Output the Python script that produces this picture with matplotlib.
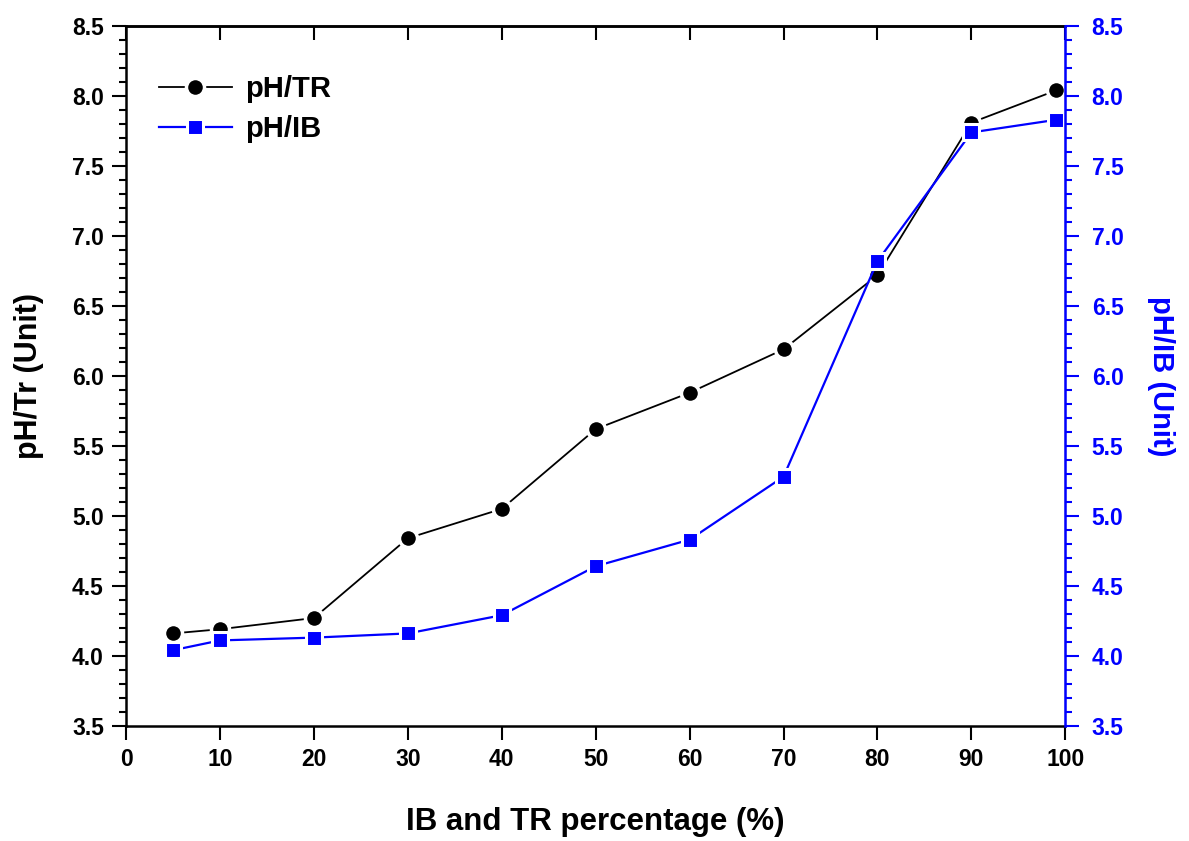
import matplotlib.pyplot as plt
from matplotlib.ticker import MultipleLocator

plt.rc('font', family='Liberation Sans', weight='bold')

# data
pct = [5, 10, 20, 30, 40, 50, 60, 70, 80, 90, 99]
ph_tr = [4.16, 4.19, 4.27, 4.84, 5.05, 5.62, 5.88, 6.19, 6.72, 7.81, 8.04]
ph_ib = [4.04, 4.11, 4.13, 4.16, 4.29, 4.64, 4.83, 5.28, 6.82, 7.74, 7.83]

FS = 16.5
BLUE = '#0000ff'

fig = plt.figure(figsize=(11.89, 8.41), dpi=100)
ax = fig.add_axes([0.106, 0.137, 0.790, 0.832])
ax2 = ax.twinx()

l1, = ax.plot(pct, ph_tr, '-', color='black', lw=1.3, marker='o', ms=13,
              mfc='black', mec='white', mew=2.5, label='pH/TR')
l2, = ax2.plot(pct, ph_ib, '-', color=BLUE, lw=1.6, marker='s', ms=11,
               mfc=BLUE, mec='white', mew=2.2, label='pH/IB')

ax.set_xlim(0, 100)
ax.set_ylim(3.5, 8.5)
ax2.set_ylim(3.5, 8.5)

ax.xaxis.set_major_locator(MultipleLocator(10))
ax.yaxis.set_major_locator(MultipleLocator(0.5))
ax.yaxis.set_minor_locator(MultipleLocator(0.1))
ax2.yaxis.set_major_locator(MultipleLocator(0.5))
ax2.yaxis.set_minor_locator(MultipleLocator(0.1))
ax.yaxis.set_major_formatter('{x:.1f}')
ax2.yaxis.set_major_formatter('{x:.1f}')

ax.tick_params(axis='x', which='major', direction='out', length=10, width=1.5,
               labelsize=FS, pad=6)
ax.tick_params(axis='y', which='major', direction='out', length=10, width=1.5,
               labelsize=FS, pad=6, right=False)
ax.tick_params(axis='y', which='minor', direction='out', length=5, width=1.5, right=False)
ax2.tick_params(axis='y', which='major', direction='out', length=10, width=1.5,
                labelsize=FS, pad=9, colors=BLUE)
ax2.tick_params(axis='y', which='minor', direction='out', length=5, width=1.5,
                colors=BLUE)

# top ticks point inward, no labels
top = ax.secondary_xaxis('top')
top.xaxis.set_major_locator(MultipleLocator(10))
top.tick_params(direction='in', length=10, width=1.5, labeltop=False)
top.spines['top'].set_linewidth(1.8)

for s in ['left', 'top', 'bottom']:
    ax.spines[s].set_linewidth(1.8)
ax2.spines['right'].set_color(BLUE)
ax2.spines['right'].set_linewidth(1.8)
for s in ['left', 'top', 'bottom']:
    ax2.spines[s].set_visible(False)

ax.set_xlabel('IB and TR percentage (%)', fontsize=22.5, fontweight='bold', labelpad=26)
ax.set_ylabel('pH/Tr (Unit)', fontsize=22, fontweight='bold', labelpad=20)
ax2.set_ylabel('pH/IB (Unit)', fontsize=21, fontweight='bold', color=BLUE,
               rotation=270, labelpad=37)

ax.legend([l1, l2], ['pH/TR', 'pH/IB'], loc='upper left', frameon=False,
          prop={'size': 21, 'weight': 'bold'}, handlelength=2.5, handletextpad=0.45,
          bbox_to_anchor=(0.007, 0.967), labelspacing=0.4)

fig.savefig('out.png', dpi=100)
